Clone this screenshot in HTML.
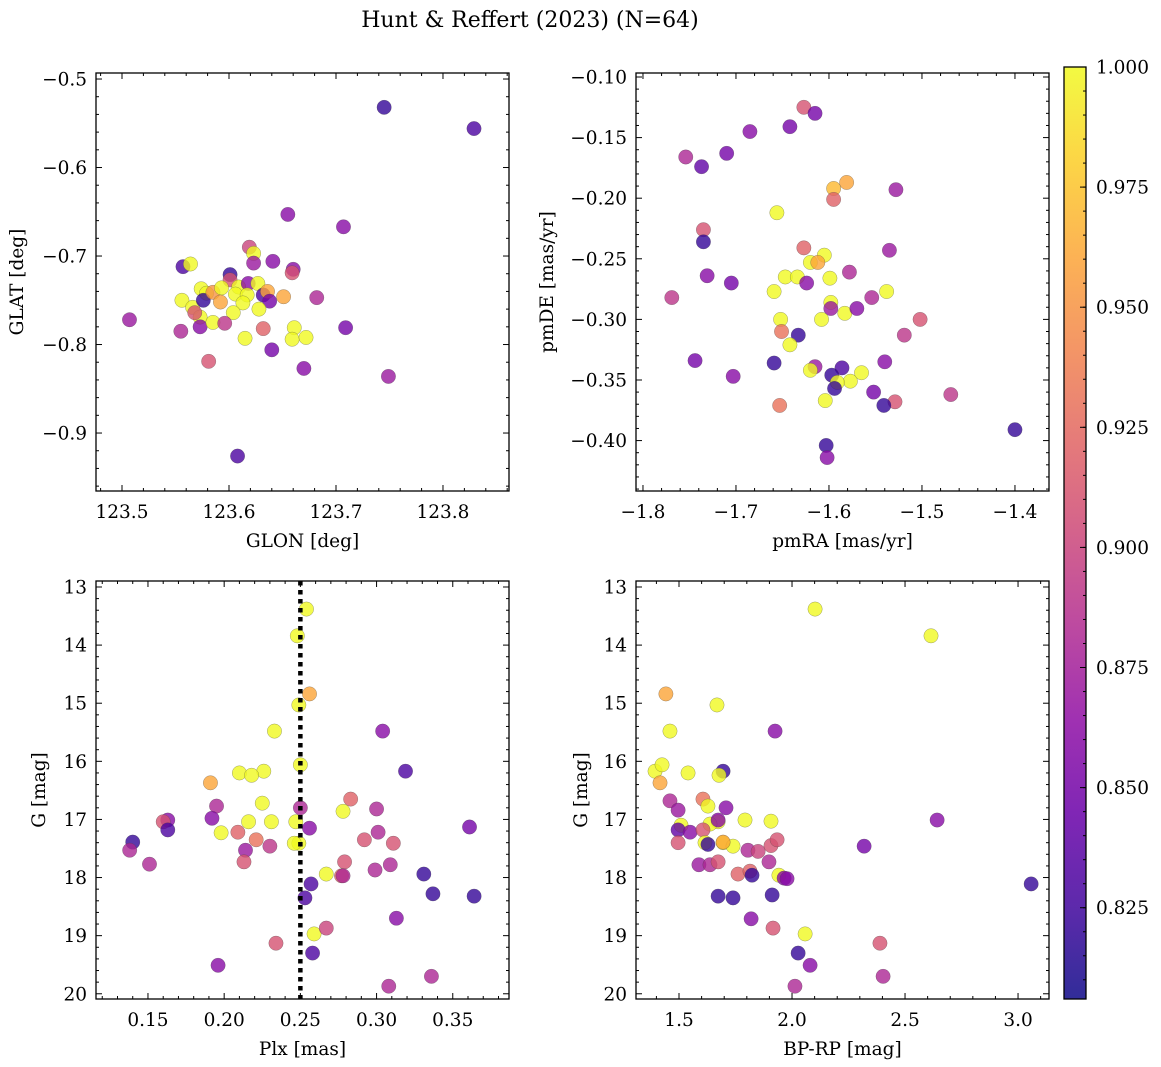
<!DOCTYPE html>
<html><head><meta charset="utf-8">
<style>
html,body{margin:0;padding:0;background:#fff;}
svg{display:block;font-family:"DejaVu Serif","Liberation Serif",serif;}
</style></head>
<body>
<svg id="fig" width="1161" height="1067" viewBox="0 0 1161 1067" xmlns="http://www.w3.org/2000/svg">
<defs>
<linearGradient id="cbgrad" x1="0" y1="1" x2="0" y2="0">
<stop offset="0" stop-color="#0d0887"/><stop offset="0.1" stop-color="#41049d"/><stop offset="0.2" stop-color="#6a00a8"/><stop offset="0.3" stop-color="#8f0da4"/><stop offset="0.4" stop-color="#b12a90"/><stop offset="0.5" stop-color="#cc4778"/><stop offset="0.6" stop-color="#e16462"/><stop offset="0.7" stop-color="#f2844b"/><stop offset="0.8" stop-color="#fca636"/><stop offset="0.9" stop-color="#fcce25"/><stop offset="1" stop-color="#f0f921"/>
</linearGradient>
</defs>
<text x="530" y="27" font-size="22" text-anchor="middle">Hunt &amp; Reffert (2023) (N=64)</text>
</svg>
<script>
// ---- Panel 1: GLON vs GLAT ----
const p1_glon = [123.619,123.623,123.623,123.641,123.660,123.659,123.557,123.564,123.601,123.601,123.556,123.566,123.574,123.579,123.576,123.585,123.593,123.592,123.609,123.606,123.618,123.627,123.617,123.613,123.632,123.636,123.638,123.628,123.651,123.604,123.573,123.573,123.585,123.596,123.568,123.555,123.581,123.615,123.632,123.661,123.659,123.672,123.682,123.709,123.640,123.670,123.745,123.829,123.507,123.608,123.655,123.707,123.749];
const p1_glat = [-0.690,-0.697,-0.708,-0.706,-0.715,-0.719,-0.712,-0.709,-0.721,-0.727,-0.750,-0.758,-0.737,-0.742,-0.750,-0.741,-0.736,-0.752,-0.735,-0.743,-0.731,-0.731,-0.744,-0.753,-0.744,-0.740,-0.751,-0.760,-0.746,-0.764,-0.769,-0.780,-0.775,-0.776,-0.764,-0.785,-0.819,-0.793,-0.782,-0.781,-0.794,-0.792,-0.747,-0.781,-0.806,-0.827,-0.532,-0.556,-0.772,-0.926,-0.653,-0.667,-0.836];
const p1_prob = [0.90,1.0,0.87,0.86,0.86,0.91,0.83,1.0,0.82,0.91,1.0,1.0,1.0,1.0,0.82,0.95,1.0,0.96,1.0,1.0,0.86,1.0,1.0,1.0,0.83,0.96,0.85,1.0,0.96,1.0,1.0,0.86,1.0,0.89,0.91,0.88,0.91,1.0,0.92,1.0,1.0,1.0,0.88,0.85,0.85,0.86,0.82,0.83,0.87,0.83,0.86,0.86,0.87];
// ---- Panel 2: pmRA vs pmDE ----
const p2_pmra = [-1.627,-1.615,-1.685,-1.642,-1.754,-1.710,-1.737,-1.581,-1.595,-1.595,-1.528,-1.735,-1.735,-1.656,-1.627,-1.620,-1.605,-1.612,-1.647,-1.634,-1.624,-1.599,-1.578,-1.535,-1.659,-1.554,-1.538,-1.598,-1.598,-1.583,-1.570,-1.652,-1.651,-1.633,-1.608,-1.642,-1.659,-1.615,-1.620,-1.586,-1.597,-1.577,-1.565,-1.591,-1.594,-1.540,-1.552,-1.529,-1.541,-1.604,-1.653,-1.502,-1.519,-1.769,-1.744,-1.731,-1.705,-1.703,-1.400,-1.469,-1.603,-1.602];
const p2_pmde = [-0.125,-0.130,-0.145,-0.141,-0.166,-0.163,-0.174,-0.187,-0.192,-0.201,-0.193,-0.226,-0.236,-0.212,-0.241,-0.253,-0.247,-0.253,-0.265,-0.265,-0.270,-0.266,-0.261,-0.243,-0.277,-0.282,-0.277,-0.286,-0.291,-0.295,-0.291,-0.300,-0.310,-0.313,-0.300,-0.321,-0.336,-0.339,-0.342,-0.340,-0.346,-0.351,-0.344,-0.352,-0.357,-0.335,-0.360,-0.368,-0.371,-0.367,-0.371,-0.300,-0.313,-0.282,-0.334,-0.264,-0.270,-0.347,-0.391,-0.362,-0.404,-0.414];
const p2_prob = [0.91,0.85,0.86,0.85,0.88,0.85,0.84,0.96,0.97,0.92,0.87,0.91,0.82,1.0,0.92,1.0,1.0,0.96,1.0,1.0,0.86,1.0,0.88,0.87,1.0,0.88,1.0,1.0,0.87,1.0,0.86,1.0,0.93,0.82,1.0,1.0,0.82,0.87,1.0,0.83,0.82,1.0,1.0,1.0,0.82,0.86,0.85,0.91,0.82,1.0,0.93,0.91,0.89,0.89,0.85,0.86,0.85,0.86,0.82,0.89,0.82,0.86];
// ---- Panel 3: Plx vs G ----
const p3_plx = [0.254,0.248,0.256,0.249,0.233,0.304,0.319,0.250,0.191,0.210,0.226,0.218,0.283,0.278,0.250,0.225,0.195,0.192,0.300,0.256,0.247,0.249,0.311,0.301,0.292,0.163,0.160,0.163,0.140,0.138,0.151,0.198,0.216,0.221,0.231,0.209,0.214,0.230,0.246,0.279,0.277,0.299,0.309,0.331,0.337,0.364,0.361,0.257,0.253,0.258,0.259,0.267,0.313,0.234,0.267,0.196,0.308,0.336,0.213,0.278];
const p3_g = [13.38,13.84,14.84,15.03,15.48,15.48,16.17,16.06,16.37,16.20,16.17,16.24,16.65,16.86,16.80,16.72,16.77,16.98,16.82,17.15,17.04,17.41,17.41,17.22,17.35,17.01,17.04,17.18,17.39,17.53,17.77,17.23,17.04,17.35,17.04,17.22,17.53,17.46,17.41,17.73,17.97,17.87,17.78,17.94,18.28,18.32,17.13,18.11,18.35,19.30,18.97,17.94,18.70,19.13,18.87,19.51,19.87,19.70,17.73,17.97];
const p3_prob = [1.0,1.0,0.96,1.0,1.0,0.86,0.83,1.0,0.96,1.0,1.0,1.0,0.92,1.0,0.88,1.0,0.88,0.86,0.88,0.86,1.0,1.0,0.91,0.88,0.91,0.86,0.91,0.83,0.82,0.88,0.88,1.0,1.0,0.93,1.0,0.92,0.87,0.89,1.0,0.91,0.92,0.88,0.88,0.82,0.82,0.82,0.85,0.83,0.83,0.83,1.0,1.0,0.86,0.91,0.90,0.86,0.88,0.88,0.91,0.88];
const p3_cut = 0.25;
// ---- Panel 4: BP-RP vs G ----
const p4_bprp = [2.102,2.615,1.442,1.668,1.460,1.925,1.394,1.425,1.416,1.540,1.695,1.677,1.460,1.496,1.606,1.628,1.708,1.673,1.637,1.673,1.792,1.907,1.509,1.496,1.549,1.496,1.606,1.615,1.628,1.695,1.739,1.695,1.805,1.850,1.907,1.934,1.588,1.637,1.673,1.761,1.814,1.823,1.898,1.942,1.965,1.673,1.739,1.912,1.819,1.916,2.058,2.027,2.080,2.013,2.389,2.403,2.642,2.319,3.058,1.978];
const p4_g = [13.38,13.84,14.84,15.03,15.48,15.48,16.17,16.06,16.37,16.20,16.17,16.24,16.68,16.84,16.65,16.77,16.80,17.04,17.08,17.01,17.01,17.03,17.10,17.18,17.22,17.40,17.18,17.40,17.43,17.40,17.46,17.39,17.53,17.55,17.45,17.35,17.78,17.78,17.73,17.94,17.89,17.96,17.73,17.96,18.01,18.32,18.35,18.30,18.71,18.87,18.97,19.30,19.51,19.87,19.13,19.70,17.01,17.46,18.11,18.02];
const p4_prob = [1.0,1.0,0.96,1.0,1.0,0.86,1.0,1.0,0.96,1.0,0.82,1.0,0.88,0.87,0.93,1.0,0.86,1.0,1.0,0.86,1.0,1.0,1.0,0.84,0.86,0.91,0.91,1.0,0.82,1.0,1.0,0.96,0.88,0.90,0.91,0.91,0.87,0.88,0.91,0.92,0.92,0.82,0.88,1.0,0.86,0.82,0.82,0.82,0.86,0.91,1.0,0.82,0.86,0.88,0.91,0.88,0.86,0.85,0.82,0.86];

const VMIN = 0.806, VMAX = 1.0;
const cbTicks = [0.825,0.850,0.875,0.900,0.925,0.950,0.975,1.000];

const SVGNS = "http://www.w3.org/2000/svg";
const svg = document.getElementById('fig');
function mk(tag, attrs, parent){ const e=document.createElementNS(SVGNS,tag); for(const k in attrs) e.setAttribute(k,attrs[k]); (parent||svg).appendChild(e); return e; }

const stops = [[13,8,135],[65,4,157],[106,0,168],[143,13,164],[177,42,144],[204,71,120],[225,100,98],[242,132,75],[252,166,54],[252,206,37],[240,249,33]];
function plasma(v){
  let t=(v-VMIN)/(VMAX-VMIN); t=Math.max(0,Math.min(1,t));
  const f=t*10, i=Math.min(9,Math.floor(f)), r=f-i;
  const a=stops[i], b=stops[i+1];
  return 'rgb('+a.map((c,j)=>Math.round(c+(b[j]-c)*r)).join(',')+')';
}

function fmt(v,d){ let s=v.toFixed(d); if(v<0) s='\u2212'+s.slice(1); return s; }

const TICKFS = 18.5, LABFS = 18.5;

function panel(cfg){
  const {name,x0,x1,y0,y1,xmin,xmax,ymin,ymax,xs,ys,ps,xMaj,xMin,yMaj,yMin,xd,yd,xlab,ylab,yInvert} = cfg;
  const g = mk('g',{});
  
  
  const sx = v => x0 + (v-xmin)/(xmax-xmin)*(x1-x0);
  const sy = yInvert ? (v => y0 + (v-ymin)/(ymax-ymin)*(y1-y0)) : (v => y1 - (v-ymin)/(ymax-ymin)*(y1-y0));
  const clipId = name+'-clip';
  const cp = mk('clipPath',{id:clipId},g); mk('rect',{x:x0,y:y0,width:x1-x0,height:y1-y0},cp);
  const pts = mk('g',{'clip-path':'url(#'+clipId+')'},g);
  
  
  for(let i=0;i<xs.length;i++){
    const c = mk('circle',{cx:sx(xs[i]),cy:sy(ys[i]),r:7.2,fill:plasma(ps[i]),'fill-opacity':0.8,stroke:'#444','stroke-opacity':0.5,'stroke-width':0.5},pts);
    
    
  }
  const tg = mk('g',{stroke:'#000','stroke-width':1},g);
  const eps=1e-9;
  for(let v=Math.ceil(xmin/xMin-eps)*xMin; v<=xmax+eps; v+=xMin){
    const X=sx(v); const isMaj=Math.abs(v/xMaj-Math.round(v/xMaj))<1e-6; const L=isMaj?6:3;
    mk('line',{x1:X,x2:X,y1:y1,y2:y1-L},tg); mk('line',{x1:X,x2:X,y1:y0,y2:y0+L},tg);
    if(isMaj){ const t=mk('text',{x:X,y:y1+27,'font-size':TICKFS,'text-anchor':'middle',stroke:'none'},g); t.textContent=fmt(Math.round(v/xMaj)*xMaj,xd);
        }
  }
  for(let v=Math.ceil(ymin/yMin-eps)*yMin; v<=ymax+eps; v+=yMin){
    const Y=sy(v); const isMaj=Math.abs(v/yMaj-Math.round(v/yMaj))<1e-6; const L=isMaj?6:3;
    mk('line',{x1:x0,x2:x0+L,y1:Y,y2:Y},tg); mk('line',{x1:x1,x2:x1-L,y1:Y,y2:Y},tg);
    if(isMaj){ const t=mk('text',{x:x0-9,y:Y+6.5,'font-size':TICKFS,'text-anchor':'end',stroke:'none'},g); t.textContent=fmt(Math.round(v/yMaj)*yMaj,yd);
        }
  }
  const fr = mk('rect',{x:x0,y:y0,width:x1-x0,height:y1-y0,fill:'none',stroke:'#000','stroke-width':1.3},g);
   
  if(cfg.vline!==undefined){
    const VX = sx(cfg.vline);
    const vl = mk('g',{},g);
    
    
    for(let yy=y0; yy<y1; yy+=9){
      mk('rect',{x:VX-2.25,y:yy,width:4.5,height:Math.min(4.5,y1-yy),fill:'#000'},vl);
    }
  }
  const xl = mk('text',{x:(x0+x1)/2,y:y1+56,'font-size':LABFS,'text-anchor':'middle'},g); xl.textContent=xlab;
   
  const yl = mk('text',{x:0,y:0,'font-size':LABFS,'text-anchor':'middle',transform:'translate('+(cfg.ylx)+','+((y0+y1)/2)+') rotate(-90)'},g); yl.textContent=ylab;
   
}

panel({name:'glon-glat',x0:96,x1:509,y0:73,y1:491,xmin:123.4757,xmax:123.8617,ymin:-0.9655,ymax:-0.4932,xs:p1_glon,ys:p1_glat,ps:p1_prob,xMaj:0.1,xMin:0.02,yMaj:0.1,yMin:0.02,xd:1,yd:1,xlab:'GLON [deg]',ylab:'GLAT [deg]',ylx:23});
panel({name:'pm',x0:636,x1:1049,y0:73,y1:491,xmin:-1.8075,xmax:-1.3634,ymin:-0.4416,ymax:-0.0967,xs:p2_pmra,ys:p2_pmde,ps:p2_prob,xMaj:0.1,xMin:0.02,yMaj:0.05,yMin:0.01,xd:1,yd:2,xlab:'pmRA [mas/yr]',ylab:'pmDE [mas/yr]',ylx:553});
panel({name:'plx-g',x0:96,x1:509,y0:581,y1:999,xmin:0.1159,xmax:0.3869,ymin:12.897,ymax:20.09,yInvert:true,xs:p3_plx,ys:p3_g,ps:p3_prob,xMaj:0.05,xMin:0.01,yMaj:1,yMin:0.2,xd:2,yd:0,xlab:'Plx [mas]',ylab:'G [mag]',ylx:45,vline:p3_cut});
panel({name:'cmd',x0:636,x1:1049,y0:581,y1:999,xmin:1.3097,xmax:3.137,ymin:12.897,ymax:20.09,yInvert:true,xs:p4_bprp,ys:p4_g,ps:p4_prob,xMaj:0.5,xMin:0.1,yMaj:1,yMin:0.2,xd:1,yd:0,xlab:'BP-RP [mag]',ylab:'G [mag]',ylx:587});

const cb = mk('g',{});


const CBX=1064, CBW=22, CBT=67, CBB=999;
mk('rect',{x:CBX,y:CBT,width:CBW,height:CBB-CBT,fill:'url(#cbgrad)','fill-opacity':0.85},cb);
mk('rect',{x:CBX,y:CBT,width:CBW,height:CBB-CBT,fill:'none',stroke:'#000','stroke-width':1.3},cb);
const cy = v => CBB - (v-VMIN)/(VMAX-VMIN)*(CBB-CBT);
for(let v=0.81; v<=1.0001; v+=0.005){ const Y=cy(v); mk('line',{x1:CBX+CBW,x2:CBX+CBW-3,y1:Y,y2:Y,stroke:'#000'},cb); }
cbTicks.forEach(v=>{ const Y=cy(v); mk('line',{x1:CBX+CBW,x2:CBX+CBW-6,y1:Y,y2:Y,stroke:'#000'},cb);
  const t=mk('text',{x:1096,y:Y+6.5,'font-size':TICKFS},cb); t.textContent=v.toFixed(3);
    });
</script>
</body></html>
